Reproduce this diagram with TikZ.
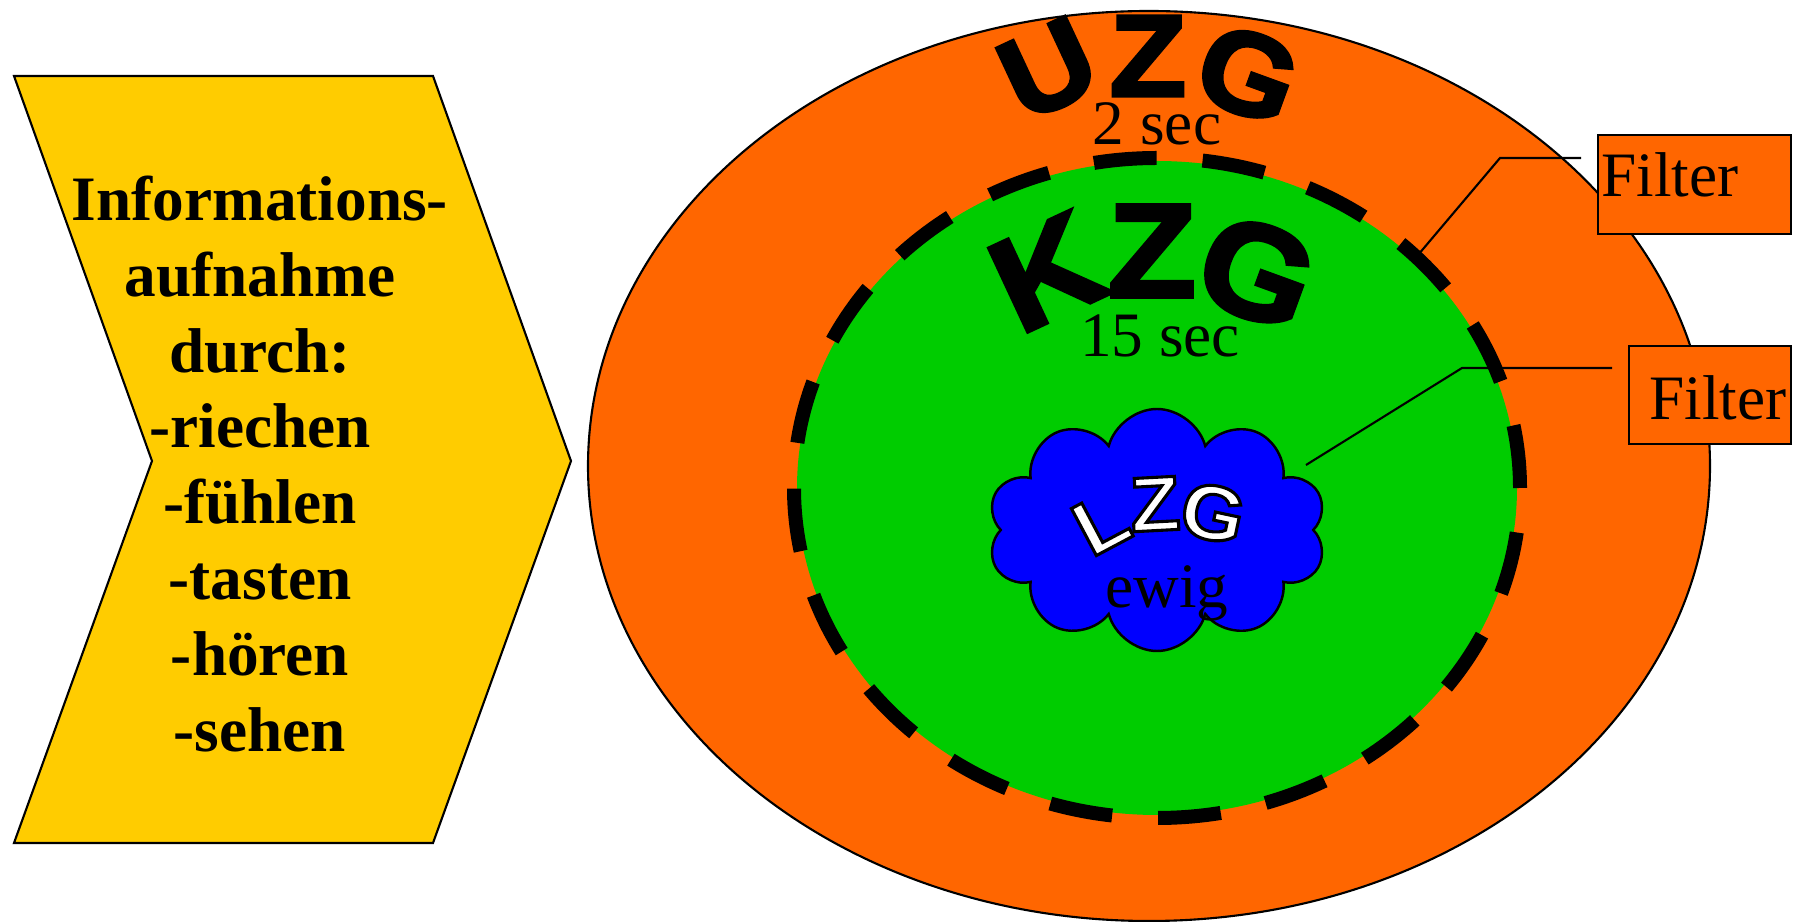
\documentclass[tikz,border=0pt]{standalone}
\usepackage{fontspec}
\setmainfont{Liberation Serif}
\newfontfamily\logofont{Liberation Sans Bold}[FakeBold=3, FakeStretch=1.08]
\newfontfamily\cloudfont{Liberation Sans Bold}[FakeBold=4, FakeStretch=1.05]
\usepackage{tikz}
\usepackage{xcolor}
\usetikzlibrary{shapes.symbols}

\definecolor{memorange}{HTML}{FF6600}
\definecolor{memgreen}{HTML}{00CC00}
\definecolor{memblue}{HTML}{0000FF}
\definecolor{infoyellow}{HTML}{FFCC00}
% white letter, black stroke (fake bold strokes the glyph outline)
\newcommand{\outlined}[1]{\special{pdf:literal direct 0 0 0 RG}#1}

\begin{document}
\begin{tikzpicture}[
            % Styles for the memory model
            infoarrow/.style={draw, line width=0.6pt, fill=infoyellow},
            infotext/.style={align=center, inner sep=0pt,
                    font=\bfseries\fontsize{18}{21.6}\selectfont},
            storeletter/.style={inner sep=0pt, font=\logofont\fontsize{33}{33}\selectfont},
            bigletter/.style={inner sep=0pt, font=\logofont\fontsize{38}{38}\selectfont},
            cloudletter/.style={inner sep=0pt, text=white,
                    font=\cloudfont\fontsize{22}{22}\selectfont},
            timelabel/.style={anchor=base, inner sep=0pt, font=\fontsize{18}{18}\selectfont},
            kzgdash/.style={draw=black, line width=0.14cm, dash pattern=on 0.63cm off 0.46cm},
            lzgcloud/.style={cloud, cloud puffs=10, aspect=1.4, draw, line width=0.7pt,
                    fill=memblue, minimum width=3.39cm, minimum height=2.42cm, inner sep=0pt},
            filterbox/.style={draw, fill=memorange, line width=0.7pt, anchor=north west,
                    align=left, inner xsep=0pt, inner ysep=0pt, font=\fontsize{18}{18}\selectfont},
            leader/.style={line width=0.6pt}, ]

            \useasboundingbox (0,0) rectangle (17.98,-9.22);

            % === LEFT: INPUT ARROW ===
            \draw[infoarrow] (0.14,-0.76) -- (4.33,-0.76) -- (5.71,-4.61)
            -- (4.33,-8.43) -- (0.14,-8.43) -- (1.52,-4.61) -- cycle;
            \node[infotext] (info) at (2.60,-4.64)
            {Informations-\\aufnahme\\durch:\\-riechen\\-fühlen\\-tasten\\-hören\\-sehen};

            % === MEMORY STORES ===
            \fill[memorange, draw=black, line width=0.6pt] (11.49,-4.66) ellipse [x radius=5.61, y radius=4.55];
            \fill[memgreen] (11.57,-4.88) ellipse [x radius=3.60, y radius=3.27];
            \draw[kzgdash] (11.57,-4.88) ellipse [x radius=3.63, y radius=3.30];
            \node[lzgcloud] (lzg) at (11.57,-5.30) {};

            % UZG
            \node[storeletter, rotate=25] (uzgU) at (10.48,-0.69) {U};
            \node[storeletter] (uzgZ) at (11.48,-0.56) {Z};
            \node[storeletter, rotate=-20] (uzgG) at (12.48,-0.74) {G};
            \node[timelabel] (uzgtime) at (11.57,-1.45) {2 sec};

            % KZG
            \node[bigletter, rotate=25] (kzgK) at (10.47,-2.72) {K};
            \node[bigletter] (kzgZ) at (11.52,-2.51) {Z};
            \node[bigletter, rotate=-20] (kzgG) at (12.57,-2.72) {G};
            \node[timelabel] (kzgtime) at (11.60,-3.57) {15 sec};

            % LZG
            \node[cloudletter, rotate=28] (lzgL) at (11.01,-5.23) {\outlined{L}};
            \node[cloudletter, rotate=3] (lzgZ) at (11.55,-5.04) {\outlined{Z}};
            \node[cloudletter, rotate=-12] (lzgG) at (12.13,-5.13) {\outlined{G}};
            \node[timelabel] (lzgtime) at (11.67,-6.08) {ewig};

            % === FILTERS ===
            \coordinate (f1start) at (14.18,-2.55);
            \coordinate (f1bend) at (15.00,-1.58);
            \coordinate (f1end) at (15.81,-1.58);
            \coordinate (f2start) at (13.06,-4.65);
            \coordinate (f2bend) at (14.62,-3.68);
            \coordinate (f2end) at (16.12,-3.68);
            \draw[leader] (f1start) -- (f1bend) -- (f1end);
            \draw[leader] (f2start) -- (f2bend) -- (f2end);

            \node[filterbox, minimum width=1.93cm, minimum height=0.99cm, text width=1.93cm,
                text height=0.45cm, text depth=0.22cm] (filt1) at (15.97,-1.34)
            {\noindent\hspace*{0.03cm}Filter};
            \node[filterbox, minimum width=1.62cm, minimum height=0.98cm, text width=1.62cm,
                text height=0.50cm, text depth=0.02cm] (filt2) at (16.28,-3.45)
            {\noindent\hspace*{0.20cm}Filter};

        \end{tikzpicture}
\end{document}
